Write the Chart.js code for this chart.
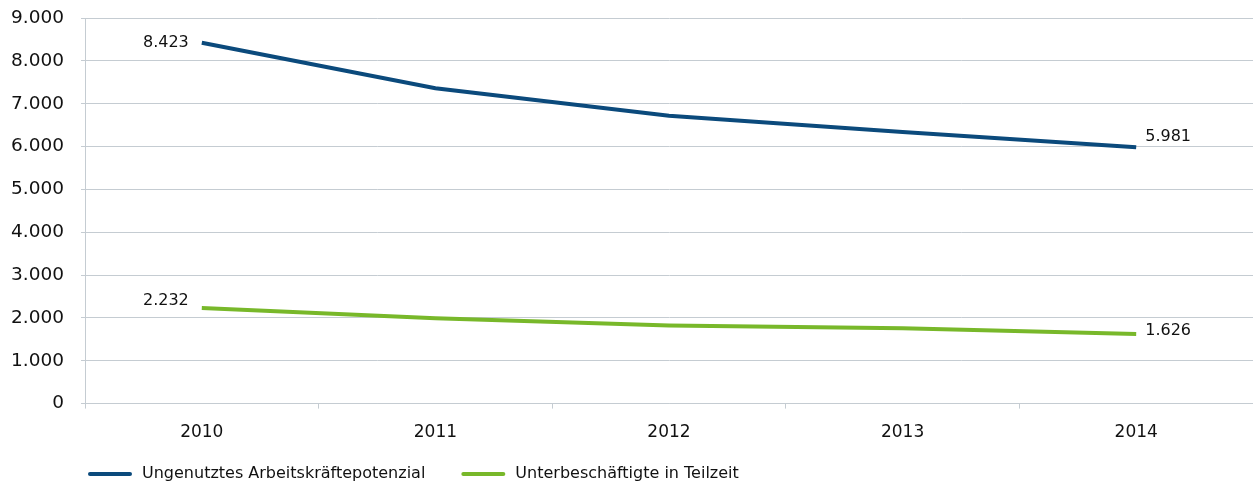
<!DOCTYPE html>
<html>
<head>
<meta charset="utf-8">
<script src="https://cdn.jsdelivr.net/npm/chart.js@4/dist/chart.umd.min.js"></script>
<style>
html,body{margin:0;padding:0;background:#fff;}
#wrap{width:1253px;height:484px;position:relative;}
</style>
</head>
<body>
<div id="wrap"><canvas id="c"></canvas></div>
<script>
const categories = ['2010', '2011', '2012', '2013', '2014'];
const seriesNames = ['Ungenutztes Arbeitskräftepotenzial', 'Unterbeschäftigte in Teilzeit'];
const ungenutzt = [8423, 7360, 6720, 6340, 5981];
const teilzeit = [2232, 1990, 1820, 1760, 1626];
const yTicks = [0, 1000, 2000, 3000, 4000, 5000, 6000, 7000, 8000, 9000];

const BLUE = '#0b4a7c';
const GREEN = '#78b82a';
const GRID = '#c5ccd2';
const TEXT = '#111111';

function fmt(v) {
  return String(Math.round(v)).replace(/\B(?=(\d{3})+(?!\d))/g, '.');
}

const endLabels = {
  id: 'endLabels',
  afterDatasetsDraw(chart, args, opts) {
    const ctx = chart.ctx;
    ctx.save();
    ctx.font = '16px "DejaVu Sans"';
    ctx.fillStyle = TEXT;
    ctx.textBaseline = 'middle';
    chart.data.datasets.forEach((ds, di) => {
      const meta = chart.getDatasetMeta(di);
      const off = opts.offsets[di];
      const first = meta.data[0];
      const last = meta.data[meta.data.length - 1];
      ctx.textAlign = 'right';
      ctx.fillText(fmt(ds.data[0]), first.x - 13, first.y + off[0]);
      ctx.textAlign = 'left';
      ctx.fillText(fmt(ds.data[ds.data.length - 1]), last.x + 9, last.y + off[1]);
    });
    ctx.restore();
  }
};

const bottomLegend = {
  id: 'bottomLegend',
  afterDraw(chart, args, opts) {
    const ctx = chart.ctx;
    ctx.save();
    ctx.font = opts.font;
    ctx.textBaseline = 'middle';
    let x = opts.x;
    const y = opts.y;
    chart.data.datasets.forEach((ds) => {
      ctx.strokeStyle = ds.borderColor;
      ctx.lineWidth = 4;
      ctx.lineCap = 'round';
      ctx.beginPath();
      ctx.moveTo(x, y);
      ctx.lineTo(x + opts.lineLen, y);
      ctx.stroke();
      x += opts.lineLen + opts.gap;
      ctx.fillStyle = TEXT;
      ctx.textAlign = 'left';
      ctx.fillText(ds.label, x, y);
      x += ctx.measureText(ds.label).width + opts.itemGap;
    });
    ctx.restore();
  }
};

new Chart(document.getElementById('c'), {
  type: 'line',
  data: {
    labels: categories,
    datasets: [
      { label: seriesNames[0], data: ungenutzt, borderColor: BLUE, backgroundColor: BLUE, borderWidth: 4, pointRadius: 0, tension: 0, fill: false },
      { label: seriesNames[1], data: teilzeit, borderColor: GREEN, backgroundColor: GREEN, borderWidth: 4, pointRadius: 0, tension: 0, fill: false }
    ]
  },
  options: {
    responsive: true,
    maintainAspectRatio: false,
    animation: false,
    layout: { padding: { left: 0, right: 0, top: 0, bottom: 27 } },
    plugins: {
      legend: { display: false },
      tooltip: { enabled: false },
      endLabels: { offsets: [[0, -11], [-7, -3]] },
      bottomLegend: { x: 90, y: 474, lineLen: 40, gap: 12, itemGap: 38, font: '16px "DejaVu Sans"' }
    },
    scales: {
      x: {
        offset: true,
        grid: { offset: true, drawOnChartArea: false, drawTicks: true, tickLength: 5, color: GRID },
        border: { display: true, color: GRID, width: 1 },
        ticks: { color: TEXT, font: { family: 'DejaVu Sans', size: 17 }, padding: 14 }
      },
      y: {
        min: 0,
        max: 9000,
        afterBuildTicks: (scale) => { scale.ticks = yTicks.map(v => ({ value: v })); },
        afterFit: (scale) => { scale.width = 85; scale.paddingTop = 18; },
        grid: { color: GRID, drawTicks: true, tickLength: 4, lineWidth: 1 },
        border: { display: true, color: GRID, width: 1 },
        ticks: { color: TEXT, font: { family: 'DejaVu Sans', size: 18.5 }, padding: 17, callback: (v) => fmt(v) }
      }
    }
  },
  plugins: [endLabels, bottomLegend]
});
</script>
</body>
</html>
